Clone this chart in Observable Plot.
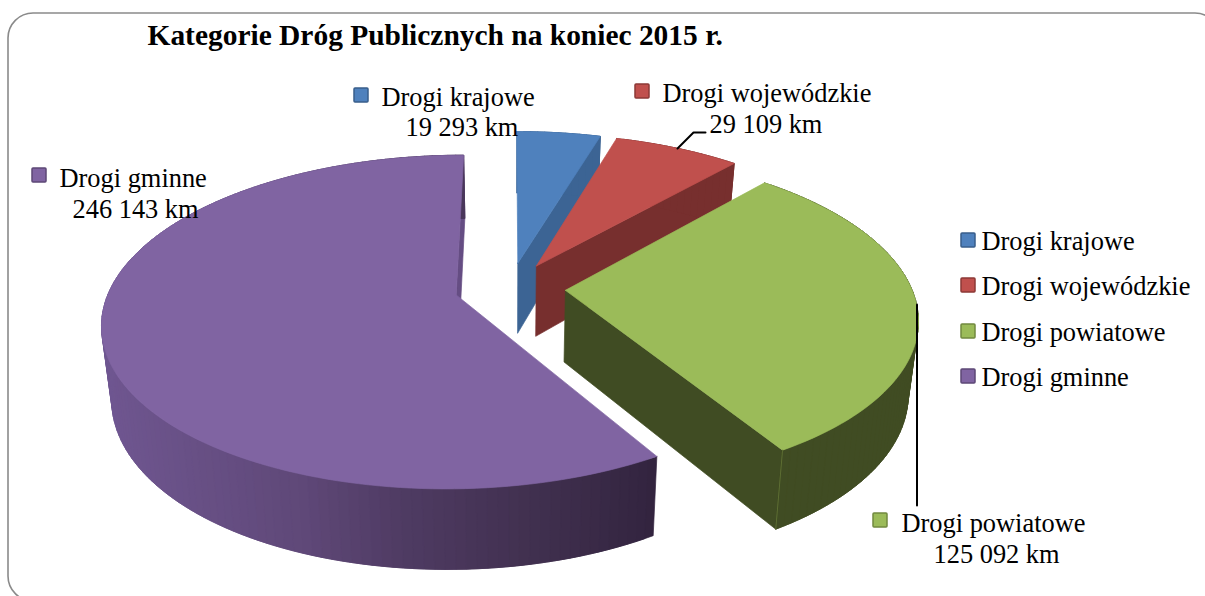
<!DOCTYPE html>
<html lang="pl">
<head>
<meta charset="utf-8">
<script src="https://cdn.jsdelivr.net/npm/d3@7"></script>
<script src="https://cdn.jsdelivr.net/npm/@observablehq/plot@0.6"></script>
<style>html,body{margin:0;padding:0;background:#fff}svg{display:block}</style>
</head>
<body>
<div id="chart"></div>
<script>
// ---- data ----
const chartTitle = "Kategorie Dróg Publicznych na koniec 2015 r.";
const categories = ["Drogi krajowe", "Drogi wojewódzkie", "Drogi powiatowe", "Drogi gminne"];
const kilometres = [19293, 29109, 125092, 246143];
const valueLabels = ["19 293 km", "29 109 km", "125 092 km", "246 143 km"];
const topColors = ["#4f81bd", "#c0504d", "#9bbb59", "#8064a2"];
const wallColors = ["#3c6494", "#772f2e", "#404c23", "#654d83"];
const edgeColors = ["#385d8a", "#8c3836", "#71893f", "#5c4776"];

// ---- layout (pixels) ----
const W = 1205, H = 596;
const O = [509.5, 287.5], R = 346, explode = 55.5, tilt = 0.463, persp = 0.000466;
const sideScale = 0.975;
const labelX = [381, 662, 901, 59], labelY = [97, 93, 523, 178];
const valueX = [405, 709, 933, 72], valueY = [127, 124, 554, 209];
const keyX = [354, 635, 873, 32], keyY = [88, 84, 513, 168], keySize = 15;
const legendSwatchX = 961, legendTextX = 981, legendY = [241, 286, 332, 377];
const frameBox = [8, 13, 1220, 601];

// ---- 3D pie geometry derived from the values ----
const total = d3.sum(kilometres);
const rad = d => d * Math.PI / 180;
const ends = Array.from(d3.cumsum(kilometres), v => v / total * 360);
const starts = ends.map((_, i) => i ? ends[i - 1] : 0);
function project(u, v) {
  const s = 1 / (1 + persp * v);
  return [O[0] + u * s, O[1] - tilt * v * s, v];
}
function low(p) {
  return [O[0] + (p[0] - O[0]) * sideScale, p[1] + 71.5 - 0.025 * p[2]];
}
function rim(i, deg) {
  const mid = rad((starts[i] + ends[i]) / 2), a = rad(deg);
  return project(explode * Math.sin(mid) + R * Math.sin(a), explode * Math.cos(mid) + R * Math.cos(a));
}
function apex(i) {
  const mid = rad((starts[i] + ends[i]) / 2);
  return project(explode * Math.sin(mid), explode * Math.cos(mid));
}
const purpleRamp = d3.scaleLinear().domain([105, 300, 400, 520, 655])
  .range(["#6f5690", "#5f4878", "#4f3b63", "#423151", "#33243f"]).clamp(true);

const polys = [];
let pid = 0;
function poly(points, fill) {
  const id = pid++;
  [...points, points[0]].forEach(p => polys.push({id, x: p[0], y: p[1], fill}));
}
kilometres.forEach((_, i) => {
  const a0 = starts[i], a1 = ends[i];
  const n = Math.max(4, Math.ceil((a1 - a0) / 1.5));
  const angs = d3.range(n + 1).map(k => a0 + (a1 - a0) * k / n);
  const A = apex(i);
  // the one radial wall that faces the viewer
  const e = rim(i, a1);
  poly([A, e, low(e), low(A)], wallColors[i]);
  // outer rim: each facet runs under the next one so no seam shows
  for (let k = 0; k < n; k++) {
    const run = angs.slice(k, k + 3).map(a => rim(i, a));
    const c = i === 3 ? purpleRamp((run[0][0] + run[1][0]) / 2) : wallColors[i];
    poly([...run, ...run.map(low).reverse()], c);
  }
  // top face
  poly([A, ...angs.map(a => rim(i, a))], topColors[i]);
});
// seam between the two dark faces of the green slice
const gE = rim(2, ends[2]);
const seam = [gE, low(gE)].map(p => ({x: p[0], y: p[1]}));

const labels = categories.map((t, i) => ({t, x: labelX[i], y: labelY[i]}));
const values = valueLabels.map((t, i) => ({t, x: valueX[i], y: valueY[i]}));
const legend = categories.map((t, i) => ({t, y: legendY[i], i}));
const keys = categories.map((t, i) => ({x: keyX[i], y: keyY[i], i}));
const leaderRed = [[677, 148], [693, 132], [705, 132]].map(([x, y]) => ({x, y}));
const leaderGreen = [[916.5, 304], [916.5, 505]].map(([x, y]) => ({x, y}));

const serif = "'Liberation Serif','Times New Roman',serif";
const plot = Plot.plot({
  width: W, height: H,
  marginTop: 0, marginRight: 0, marginBottom: 0, marginLeft: 0,
  x: {domain: [0, W], range: [0, W], axis: null},
  y: {domain: [0, H], range: [0, H], axis: null},
  color: {type: "identity"},
  style: {background: "#fff", fontFamily: serif},
  marks: [
    Plot.rect([frameBox], {x1: d => d[0], y1: d => d[1], x2: d => d[2], y2: d => d[3],
      rx: 25, fill: "#fff", stroke: "#8a8a8a", strokeWidth: 1.6}),
    Plot.line(polys, {x: "x", y: "y", z: "id", fill: "fill", stroke: "fill", strokeWidth: 0.7}),
    Plot.line(seam, {x: "x", y: "y", stroke: "#5d6e33", strokeWidth: 1}),
    Plot.line(leaderRed, {x: "x", y: "y", stroke: "#000", strokeWidth: 2}),
    Plot.line(leaderGreen, {x: "x", y: "y", stroke: "#000", strokeWidth: 2}),
    Plot.text([chartTitle], {x: () => 147, y: () => 35, text: d => d, textAnchor: "start",
      fontSize: 29.45, fontWeight: "bold", fontFamily: serif, fill: "#000"}),
    Plot.text(labels, {x: "x", y: "y", text: "t", textAnchor: "start", fontSize: 26.4, fontFamily: serif, fill: "#000"}),
    Plot.text(values, {x: "x", y: "y", text: "t", textAnchor: "start", fontSize: 26.4, fontFamily: serif, fill: "#000"}),
    Plot.text(legend, {x: () => legendTextX, y: "y", text: "t", textAnchor: "start", fontSize: 26.4, fontFamily: serif, fill: "#000"}),
    Plot.rect(keys, {x1: "x", y1: "y", x2: d => d.x + keySize - 1, y2: d => d.y + keySize - 1,
      fill: d => topColors[d.i], stroke: d => edgeColors[d.i], strokeWidth: 1.5, rx: 1}),
    Plot.rect(legend, {x1: () => legendSwatchX, x2: () => legendSwatchX + keySize - 1,
      y1: d => d.y - 8, y2: d => d.y + 6,
      fill: d => topColors[d.i], stroke: d => edgeColors[d.i], strokeWidth: 1.5, rx: 1})
  ]
});
document.getElementById("chart").append(plot);
</script>
</body>
</html>
